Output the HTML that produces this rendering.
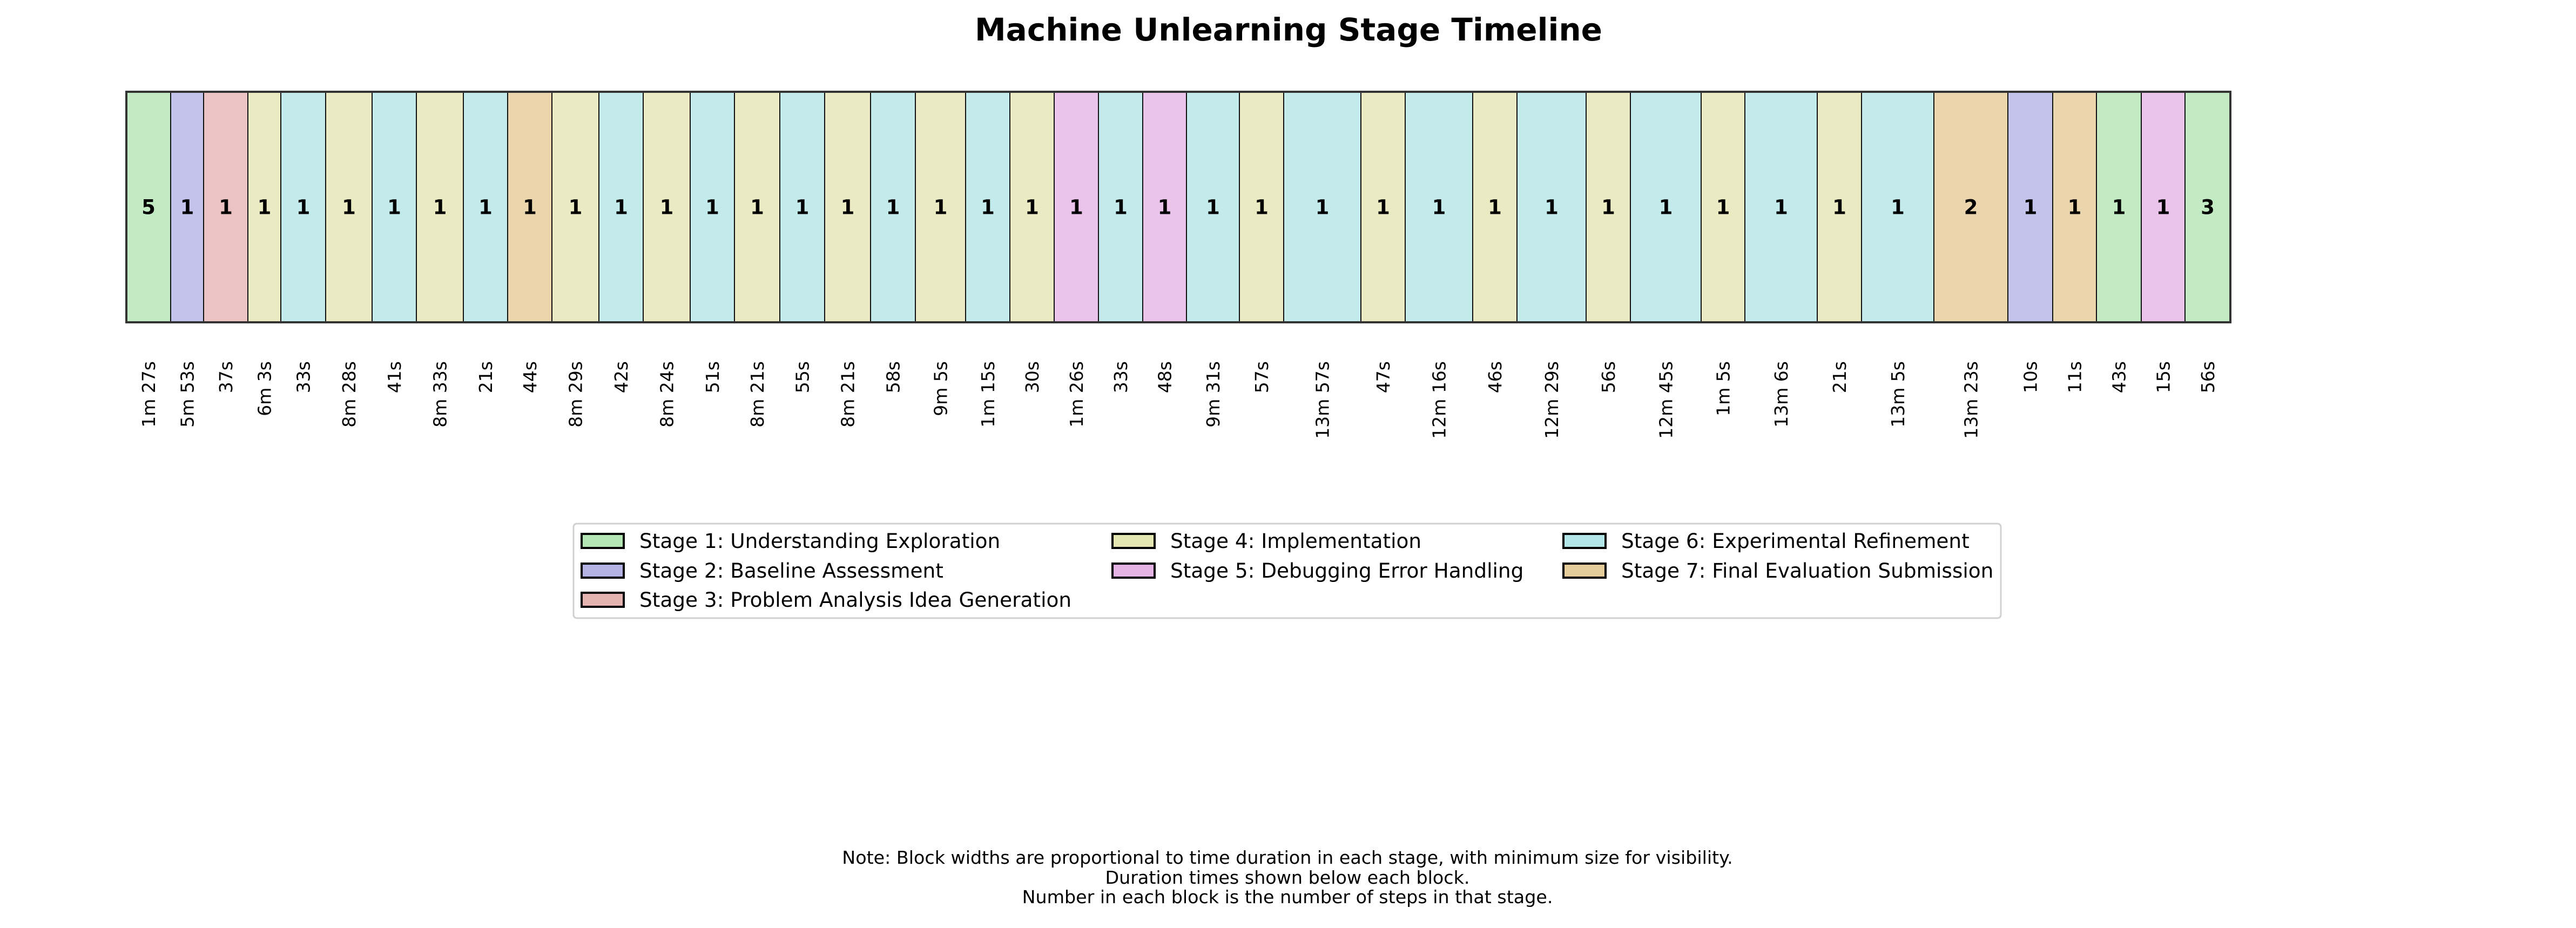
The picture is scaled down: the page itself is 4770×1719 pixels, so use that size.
<!DOCTYPE html>
<html><head><meta charset="utf-8"><style>
html,body{margin:0;padding:0;background:#fff;}
svg text{font-family:"DejaVu Sans","Liberation Sans",sans-serif;}
</style></head>
<body>
<svg id="chart" width="4770" height="1714" viewBox="0 0 4770 1714" xmlns="http://www.w3.org/2000/svg">
<rect width="4770" height="1714" fill="#fff"/>
<text x="2386" y="75" text-anchor="middle" font-size="58" font-weight="bold">Machine Unlearning Stage Timeline</text>
<g id="blocks"></g>
<g id="legend"></g>
<g font-size="33.3" text-anchor="middle">
<text x="2384" y="1600">Note: Block widths are proportional to time duration in each stage, with minimum size for visibility.</text>
<text x="2384" y="1637">Duration times shown below each block.</text>
<text x="2384" y="1673">Number in each block is the number of steps in that stage.</text>
</g>
</svg>
<script>
const stages = [1,2,3,4,6,4,6,4,6,7,4,6,4,6,4,6,4,6,4,6,4,5,6,5,6,4,6,4,6,4,6,4,6,4,6,4,6,7,2,7,1,5,1];
const stepCounts = [5,1,1,1,1,1,1,1,1,1,1,1,1,1,1,1,1,1,1,1,1,1,1,1,1,1,1,1,1,1,1,1,1,1,1,1,1,2,1,1,1,1,3];
const durations = ["1m 27s","5m 53s","37s","6m 3s","33s","8m 28s","41s","8m 33s","21s","44s","8m 29s","42s","8m 24s","51s","8m 21s","55s","8m 21s","58s","9m 5s","1m 15s","30s","1m 26s","33s","48s","9m 31s","57s","13m 57s","47s","12m 16s","46s","12m 29s","56s","12m 45s","1m 5s","13m 6s","21s","13m 5s","13m 23s","10s","11s","43s","15s","56s"];
const blockWeights = [82,61,82,61,83,86,82,87,82,82,87,82,87,82,84,83,85,83,93,82,82,82,82,81,98,82,143,82,125,82,128,82,131,81,134,82,134,137,83,81,83,81,84];
const stageNames = ["Stage 1: Understanding Exploration","Stage 2: Baseline Assessment","Stage 3: Problem Analysis Idea Generation","Stage 4: Implementation","Stage 5: Debugging Error Handling","Stage 6: Experimental Refinement","Stage 7: Final Evaluation Submission"];

const blockColors = {1:"#c3ebc3",2:"#c3c3eb",3:"#ebc3c3",4:"#ebebc3",5:"#ebc3eb",6:"#c3ebeb",7:"#ebd5ad"};
const legendColors = {1:"#b3e6b3",2:"#b3b3e6",3:"#e6b3b3",4:"#e6e6b3",5:"#e6b3e6",6:"#b3e6e6",7:"#e6cc99"};
const NS = "http://www.w3.org/2000/svg";
const X0 = 234, X1 = 4130, Y0 = 170, Y1 = 597;
const total = blockWeights.reduce((a,b)=>a+b,0);
const xScale = v => X0 + (v/total)*(X1-X0);
function mk(tag, attrs){const e=document.createElementNS(NS,tag);for(const k in attrs)e.setAttribute(k,attrs[k]);return e;}
const g = document.getElementById('blocks');
let cum = 0;
for (let i=0;i<stages.length;i++){
  const xa = xScale(cum), xb = xScale(cum+blockWeights[i]); cum += blockWeights[i];
  const r = mk('rect',{x:xa,y:Y0,width:xb-xa,height:Y1-Y0,fill:blockColors[stages[i]],stroke:"#111","stroke-width":2});
  
  
  g.appendChild(r);
  const cx = (xa+xb)/2;
  const t = mk('text',{x:cx,y:(Y0+Y1)/2+13,"text-anchor":"middle","font-size":37,"font-weight":"bold"});
  t.textContent = stepCounts[i];
  
  
  g.appendChild(t);
  const d = mk('text',{x:0,y:0,"text-anchor":"end","font-size":33,transform:`translate(${cx+12},669) rotate(-90)`});
  d.textContent = durations[i];
  
  
  g.appendChild(d);
}
const frame = mk('rect',{x:X0,y:Y0,width:X1-X0,height:Y1-Y0,fill:"none",stroke:"#333","stroke-width":4});


g.appendChild(frame);

const lg = document.getElementById('legend');
const box = mk('rect',{x:1062,y:970,width:2643,height:175,rx:6,fill:"#fff",stroke:"#d0d0d0","stroke-width":3});


lg.appendChild(box);
const colX = [1077,2060,2895], rowY = [1002,1057,1111];
const order = [[0,0],[0,1],[0,2],[1,0],[1,1],[2,0],[2,1]];
for (let s=0;s<7;s++){
  const [c,rw] = order[s];
  const sw = mk('rect',{x:colX[c],y:rowY[rw]-13,width:78,height:26,fill:legendColors[s+1],stroke:"#000","stroke-width":4});
  
  
  lg.appendChild(sw);
  const tx = mk('text',{x:colX[c]+107,y:rowY[rw]+13,"font-size":37.4});
  tx.textContent = stageNames[s];
  
  
  lg.appendChild(tx);
}
</script>
</body></html>
